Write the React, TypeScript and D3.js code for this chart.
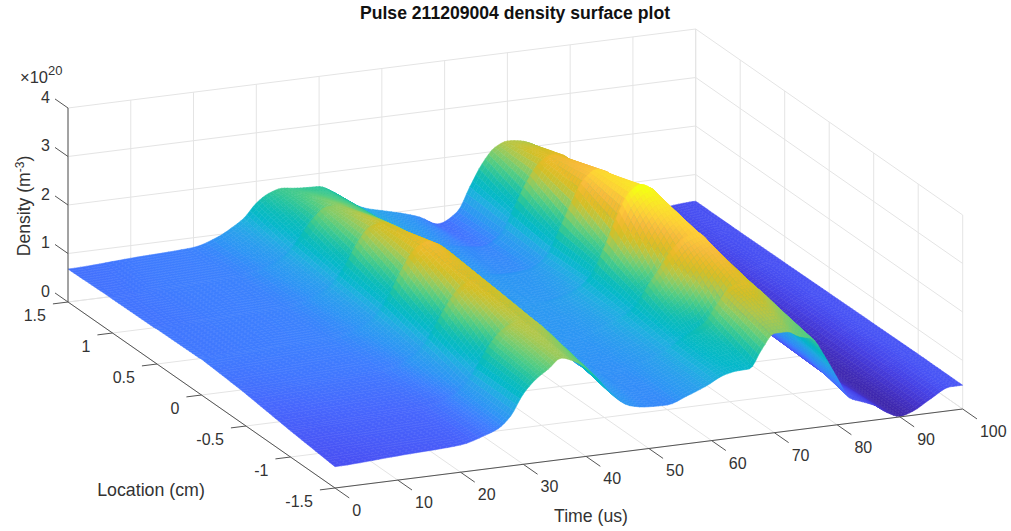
import React from 'react';
import * as d3 from 'd3';

const timeTicks = [0, 10, 20, 30, 40, 50, 60, 70, 80, 90, 100];
const locTicks = [1.5, 1, 0.5, 0, -0.5, -1, -1.5];
const densityTicks = [0, 1, 2, 3, 4];

// parula, every few entries
const parula = ['#3e26a8', '#4433ca', '#4641e4', '#4852f4', '#4767fd', '#3e7ffe', '#2e94f5', '#2aa0ec', '#1fb0e0', '#05b8ca', '#0cbcb8', '#27c49e', '#50cc84', '#82cc6a', '#b2c74a', '#d3bf27', '#eabb29', '#f8bb3d', '#fece38', '#fbe12e', '#f6f81a'];

const times = [0, 10, 20, 24, 26, 28, 30, 32, 34, 36, 38, 40, 42, 44, 47, 50, 53, 56, 59, 62, 64, 66, 68, 70, 72, 74, 76, 78, 80, 82, 84, 86, 88, 90, 92, 95, 98, 100];

// rows go from the back of the plot to the front; the extra rows sit just behind a chord
const locations = [1.5, 1.04, 1, 0.54, 0.5, 0.04, 0, -0.46, -0.5, -0.96, -1, -1.5];

const r150 = [.68, .74, .80, .96, 1.10, 1.27, 1.55, 1.72, 1.79, 1.76, 1.74, 1.73, 1.60, 1.42, 1.18, 1.07, .97, .84, .65, .85, 1.33, 1.78, 2.08, 2.18, 2.15, 2.05, 1.85, 1.55, 1.2, .85, .62, .48, .38, .33, .33, .40, .44, .45];
const r104 = [.70, .76, .80, .88, .95, 1.08, 1.31, 1.48, 1.80, 2.03, 1.96, 1.85, 1.70, 1.48, 1.22, 1.04, .92, .82, .75, .88, 1.23, 1.45, 1.95, 2.42, 2.45, 2.25, 1.95, 1.6, 1.2, .85, .6, .46, .36, .28, .28, .38, .46, .45];
const r100 = [.70, .76, .80, .92, 1.03, 1.20, 1.52, 1.85, 2.04, 2.05, 1.95, 1.85, 1.70, 1.50, 1.25, 1.05, .93, .86, .82, 1.05, 1.55, 2.05, 2.40, 2.53, 2.45, 2.25, 1.95, 1.6, 1.2, .85, .6, .44, .34, .26, .26, .38, .46, .45];
const r054 = [.71, .76, .80, .87, .95, 1.08, 1.33, 1.55, 1.98, 2.29, 2.2, 2.05, 1.85, 1.58, 1.24, 1.04, .94, .88, .89, 1.02, 1.38, 1.62, 2.25, 2.72, 2.75, 2.45, 2.1, 1.7, 1.25, .85, .56, .4, .28, .2, .2, .36, .46, .46];
const r050 = [.72, .76, .80, .90, 1.02, 1.20, 1.55, 2.0, 2.28, 2.33, 2.2, 2.05, 1.85, 1.6, 1.25, 1.05, .96, .95, .98, 1.2, 1.7, 2.25, 2.7, 2.87, 2.75, 2.45, 2.1, 1.7, 1.25, .85, .55, .38, .26, .16, .18, .36, .46, .46];
const r004 = [.73, .76, .80, .87, .94, 1.08, 1.38, 1.62, 2.08, 2.5, 2.45, 2.25, 1.95, 1.62, 1.24, 1.0, .98, .98, 1.08, 1.25, 1.58, 1.78, 2.42, 3.0, 3.05, 2.7, 2.25, 1.8, 1.3, .85, .5, .33, .21, .12, .14, .34, .47, .47];
const r000 = [.74, .76, .80, .90, 1.0, 1.2, 1.6, 2.1, 2.45, 2.58, 2.45, 2.25, 1.95, 1.65, 1.25, 1.0, 1.0, 1.05, 1.15, 1.45, 1.95, 2.55, 3.05, 3.2, 3.05, 2.7, 2.25, 1.8, 1.3, .85, .5, .32, .2, .1, .14, .34, .47, .47];
const rm046 = [.67, .71, .74, .79, .88, 1.03, 1.31, 1.55, 1.98, 2.36, 2.35, 2.15, 1.85, 1.52, 1.14, .95, .95, 1.02, 1.15, 1.32, 1.58, 1.68, 2.1, 2.55, 2.79, 2.55, 2.2, 1.8, 1.3, .8, .48, .29, .15, .07, .1, .32, .48, .48];
const rm050 = [.66, .70, .72, .82, .95, 1.15, 1.55, 1.98, 2.3, 2.41, 2.35, 2.15, 1.85, 1.55, 1.15, .95, .95, 1.05, 1.2, 1.45, 1.85, 2.2, 2.55, 2.75, 2.8, 2.55, 2.2, 1.8, 1.3, .8, .48, .28, .14, .06, .1, .32, .48, .48];
const rm096 = [.55, .59, .63, .69, .78, .94, 1.22, 1.45, 1.82, 2.15, 2.22, 2.05, 1.75, 1.42, 1.04, .9, .9, .98, 1.1, 1.29, 1.42, 1.45, 1.68, 2.1, 2.42, 2.3, 2.05, 1.65, 1.2, .75, .45, .25, .1, .03, .1, .32, .48, .49];
const rm100 = [.54, .58, .62, .72, .85, 1.05, 1.45, 1.85, 2.1, 2.2, 2.22, 2.05, 1.75, 1.45, 1.05, .9, .9, 1.0, 1.15, 1.4, 1.55, 1.7, 2.05, 2.35, 2.43, 2.3, 2.05, 1.65, 1.2, .75, .45, .25, .1, .03, .1, .32, .48, .49];
const rm150 = [.44, .50, .56, .70, .80, 1.03, 1.45, 1.72, 1.90, 2.09, 2.0, 1.82, 1.55, 1.22, .93, .86, .85, .98, 1.13, 1.32, 1.37, 1.38, 1.75, 2.05, 2.05, 1.92, 1.84, 1.45, .97, .52, .41, .30, .12, .01, .08, .30, .49, .49];
const rows = [r150, r104, r100, r054, r050, r004, r000, rm046, rm050, rm096, rm100, rm150];

const font = '"Liberation Sans", Arial, sans-serif';
const ink = '#333333';
const gridColor = '#e4e4e4';

// the view is an orthographic one, so every data axis maps to a fixed screen vector
const xT = d3.scaleLinear().domain([0, 100]).range([0, 627.7]);
const yT = d3.scaleLinear().domain([0, 100]).range([0, -79]);
const xL = d3.scaleLinear().domain([1.5, -1.5]).range([0, 267]);
const yL = d3.scaleLinear().domain([1.5, -1.5]).range([0, 186]);
const yZ = d3.scaleLinear().domain([0, 4]).range([0, -194]);
const color = d3.scaleSequential(d3.piecewise(d3.interpolateRgb, parula)).domain([0, 3.1]);

const project = (t: number, l: number, z: number): [number, number] => [
  68 + xT(t) + xL(l),
  302 + yT(t) + yL(l) + yZ(z),
];

const seg = (a: [number, number, number], b: [number, number, number]) => {
  const p = project(...a);
  const q = project(...b);
  return `M${p[0]},${p[1]}L${q[0]},${q[1]}`;
};

// monotone tangent of a row at a time column, keeps the drawn shading from looking faceted
const tangent = (row: number[], c: number) => {
  if (c === 0 || c === times.length - 1) return 0;
  const a = (row[c] - row[c - 1]) / (times[c] - times[c - 1]);
  const b = (row[c + 1] - row[c]) / (times[c + 1] - times[c]);
  return a * b <= 0 ? 0 : (2 * a * b) / (a + b);
};

const rowAt = (row: number[], c: number, u: number) => {
  const h = times[c + 1] - times[c];
  const u2 = u * u;
  const u3 = u2 * u;
  return (2 * u3 - 3 * u2 + 1) * row[c] + (u3 - 2 * u2 + u) * h * tangent(row, c)
    + (-2 * u3 + 3 * u2) * row[c + 1] + (u3 - u2) * h * tangent(row, c + 1);
};

// painted from the far corner to the near one, so folds hide what is behind them
const buildCells = () => {
  const cells: { d: string; fill: string }[] = [];
  const line = d3.line();
  for (let r = 0; r < locations.length - 1; r++) {
    const lSteps = Math.max(2, Math.round((locations[r] - locations[r + 1]) / 0.032));
    for (let ls = 0; ls < lSteps; ls++) {
      for (let c = times.length - 2; c >= 0; c--) {
        const tSteps = Math.max(4, Math.round(times[c + 1] - times[c]));
        for (let ts = tSteps - 1; ts >= 0; ts--) {
          const at = (u: number, v: number): [number, number, number] => {
            const fr = (ls + v) / lSteps;
            const fc = (ts + u) / tSteps;
            const top = rowAt(rows[r], c, fc);
            const bot = rowAt(rows[r + 1], c, fc);
            return [
              times[c] + (times[c + 1] - times[c]) * fc,
              locations[r] + (locations[r + 1] - locations[r]) * fr,
              top + (bot - top) * fr,
            ];
          };
          const corners = [at(0, 0), at(1, 0), at(1, 1), at(0, 1)];
          const zMean = d3.mean(corners, (p) => p[2]) as number;
          cells.push({
            d: (line(corners.map((p) => project(...p).map((v) => +v.toFixed(1)) as [number, number])) as string) + 'Z',
            fill: color(zMean),
          });
        }
      }
    }
  }
  return cells;
};

const cells = buildCells();

const App = () => {
  const gridPath = [
    ...timeTicks.map((t) => seg([t, -1.5, 0], [t, 1.5, 0]) + seg([t, 1.5, 0], [t, 1.5, 4])),
    ...locTicks.map((l) => seg([0, l, 0], [100, l, 0]) + seg([100, l, 0], [100, l, 4])),
    ...densityTicks.map((z) => seg([0, 1.5, z], [100, 1.5, z]) + seg([100, 1.5, z], [100, -1.5, z])),
  ].join('');

  const axisPath = seg([0, 1.5, 0], [0, 1.5, 4]) + seg([0, 1.5, 0], [0, -1.5, 0]) + seg([0, -1.5, 0], [100, -1.5, 0]);
  const tickPath = [
    ...densityTicks.map((z) => seg([0, 1.5, z], [0, 1.646, z])),
    ...locTicks.map((l) => seg([0, l, 0], [-2.4, l, 0])),
    ...timeTicks.map((t) => seg([t, -1.5, 0], [t, -1.66, 0])),
  ].join('');

  return (
    <svg width={1011} height={531} style={{ position: 'absolute', left: 0, top: 0, background: '#fff' }} fontFamily={font} fill={ink} fontSize={16}>
      <path d={gridPath} fill="none" stroke={gridColor} strokeWidth={1} />
      <g strokeWidth={0.5} strokeLinejoin="round">
        {cells.map((c, i) => (
          <path key={i} d={c.d} fill={c.fill} stroke={c.fill} />
        ))}
      </g>
      <path d={axisPath} fill="none" stroke="#555" strokeWidth={1} />
      <path d={tickPath} fill="none" stroke="#555" strokeWidth={1} />

      {densityTicks.map((z) => {
        const [x, y] = project(0, 1.646, z);
        return <text key={z} x={x - 5} y={y + 4} textAnchor="end">{z}</text>;
      })}
      {locTicks.map((l) => {
        const [x, y] = project(-2.4, l, 0);
        return <text key={l} x={x - 7} y={y + 17} textAnchor="end">{l}</text>;
      })}
      {timeTicks.map((t) => {
        const [x, y] = project(t, -1.66, 0);
        return <text key={t} x={x + 3} y={y + 18}>{t}</text>;
      })}

      <text x={515} y={19} textAnchor="middle" fontWeight="bold" fontSize={17.6} fill="#111">Pulse 211209004 density surface plot</text>
      <text x={151} y={496} textAnchor="middle" fontSize={17.8}>Location (cm)</text>
      <text x={591} y={522} textAnchor="middle" fontSize={17.7}>Time (us)</text>
      <text transform="translate(30,206) rotate(-90)" textAnchor="middle" fontSize={17.6}>
        Density (m<tspan dy={-6} fontSize={12}>-3</tspan><tspan dy={6}>)</tspan>
      </text>
      <text x={20} y={83} fontSize={16.5}>×10<tspan dy={-8} fontSize={13}>20</tspan></text>
    </svg>
  );
};

export default App;
